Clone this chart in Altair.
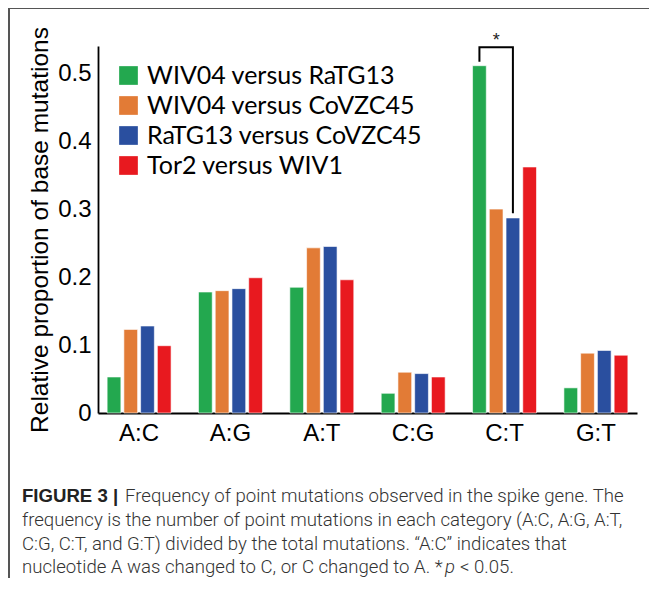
import altair as alt
import pandas as pd

categories = ["A:C", "A:G", "A:T", "C:G", "C:T", "G:T"]
series = ["WIV04 versus RaTG13", "WIV04 versus CoVZC45", "RaTG13 versus CoVZC45", "Tor2 versus WIV1"]
colors = ["#23a84f", "#e27b36", "#2a4f9f", "#e8191f"]
wiv04_ratg13 = [0.053, 0.178, 0.185, 0.029, 0.511, 0.037]
wiv04_covzc45 = [0.123, 0.180, 0.243, 0.060, 0.300, 0.088]
ratg13_covzc45 = [0.128, 0.183, 0.245, 0.058, 0.287, 0.092]
tor2_wiv1 = [0.099, 0.199, 0.196, 0.053, 0.362, 0.085]
y_ticks = [0, 0.1, 0.2, 0.3, 0.4, 0.5]
y_title = "Relative proportion of base mutations"
star_text = "*"
caption_bold = "FIGURE 3 |"
caption_lines = [
    "Frequency of point mutations observed in the spike gene. The",
    "frequency is the number of point mutations in each category (A:C, A:G, A:T,",
    "C:G, C:T, and G:T) divided by the total mutations. \u201cA:C\u201d indicates that",
    "nucleotide A was changed to C, or C changed to A. *",
]
caption_italic = "p"
caption_tail = "< 0.05."

values = [wiv04_ratg13, wiv04_covzc45, ratg13_covzc45, tor2_wiv1]
rows = []
for s, vals in zip(series, values):
    for c, v in zip(categories, vals):
        rows.append({"cat": c, "series": s, "value": v})
df = pd.DataFrame(rows)

W, H = 539, 367
x_scale = alt.Scale(domain=categories, paddingInner=0.3, paddingOuter=0.1)
xo_scale = alt.Scale(domain=series, paddingInner=0.18)
y_scale = alt.Scale(domain=[0, 0.54], nice=False)

bars = alt.Chart(df).mark_bar(stroke="white", strokeWidth=0.6).encode(
    x=alt.X("cat:N", scale=x_scale, sort=categories,
            axis=alt.Axis(title=None, labelAngle=0, labelFontSize=24, labelFont="Liberation Sans",
                          labelColor="black", ticks=False, domainColor="black", domainWidth=1.8,
                          labelPadding=8)),
    xOffset=alt.XOffset("series:N", scale=xo_scale, sort=series),
    y=alt.Y("value:Q", scale=y_scale,
            axis=alt.Axis(values=y_ticks,
                          labelExpr="datum.value == 0 ? '0' : format(datum.value, '.1f')",
                          title=y_title, titleFontSize=24.5, titleFont="Liberation Sans",
                          titleFontWeight="normal", titleColor="black", titlePadding=5,
                          grid=False, ticks=False, labelFontSize=24, labelFont="Liberation Sans",
                          labelColor="black", labelPadding=7, domainColor="black", domainWidth=1.8)),
    color=alt.Color("series:N", sort=series, scale=alt.Scale(domain=series, range=colors),
                    legend=alt.Legend(orient="none", legendX=18, legendY=17, title=None,
                                      symbolType="square", symbolSize=350, symbolStrokeWidth=0,
                                      labelFontSize=25, labelFont="Lato", labelColor="black",
                                      rowPadding=4, labelOffset=6, padding=0, labelLimit=400)),
)

g = wiv04_ratg13[4]
b = ratg13_covzc45[4]
top = g + 0.027
bracket_df = pd.DataFrame({
    "cat": ["C:T"] * 4,
    "series": [series[0], series[0], series[2], series[2]],
    "y": [g + 0.006, top, top, b + 0.007],
    "order": [0, 1, 2, 3],
})
bracket = alt.Chart(bracket_df).mark_line(color="black", strokeWidth=2).encode(
    x=alt.X("cat:N", scale=x_scale, sort=categories),
    xOffset=alt.XOffset("series:N", scale=xo_scale, sort=series),
    y=alt.Y("y:Q", scale=y_scale),
    order="order:Q",
)

star_df = pd.DataFrame({"cat": ["C:T"], "series": [series[1]], "y": [top + 0.002], "t": [star_text]})
star = alt.Chart(star_df).mark_text(baseline="alphabetic", fontSize=18, font="Liberation Sans", color="#222222").encode(
    x=alt.X("cat:N", scale=x_scale, sort=categories),
    xOffset=alt.XOffset("series:N", scale=xo_scale, sort=series),
    y=alt.Y("y:Q", scale=y_scale),
    text="t:N",
)

frame = alt.Chart(pd.DataFrame({"k": [0]})).mark_rect(fill="transparent", stroke="#555555", strokeWidth=2).encode(
    x=alt.value(-89), x2=alt.value(W + 40), y=alt.value(-38), y2=alt.value(H + 300)
)


def text_layer(txt, x, y, weight=300, italic=False, color="#333333", font="Roboto"):
    kw = dict(align="left", baseline="alphabetic", font=font, fontSize=18.6, fontWeight=weight, color=color)
    if italic:
        kw["fontStyle"] = "italic"
    return alt.Chart(pd.DataFrame({"t": [txt]})).mark_text(**kw).encode(
        x=alt.value(x), y=alt.value(y), text="t:N")


caption_y = [456, 480, 504, 527]
cap_layers = [text_layer(caption_bold, -76, caption_y[0], weight="bold", color="#222222", font="Liberation Sans")]
cap_layers.append(text_layer(caption_lines[0], 27, caption_y[0]))
for i in range(1, 4):
    cap_layers.append(text_layer(caption_lines[i], -76, caption_y[i]))
cap_layers.append(text_layer(caption_italic, 347, caption_y[3], italic=True))
cap_layers.append(text_layer(caption_tail, 362, caption_y[3]))

chart = alt.layer(bars, bracket, star, frame, *cap_layers).properties(
    width=W, height=H,
    padding={"left": 90, "top": 38, "right": 12, "bottom": 165},
    autosize=alt.AutoSizeParams(type="none"),
).configure_view(stroke=None)

chart.save("out.html", embed_options={"renderer": "svg", "actions": False})
